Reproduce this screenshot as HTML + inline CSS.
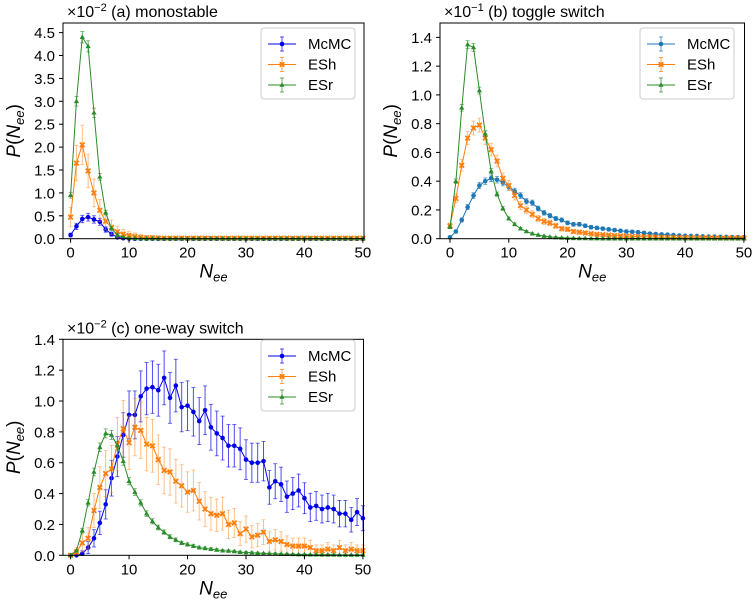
<!DOCTYPE html>
<html><head><meta charset="utf-8"><style>
body{margin:0;background:#fff;}
svg{display:block;font-family:"Liberation Sans","DejaVu Sans",sans-serif;}
</style></head><body>
<svg id="fig" width="754" height="607" viewBox="0 0 754 607" xmlns="http://www.w3.org/2000/svg"></svg>
<script>
// ---- data (units: panel scale factors) ----
const aMcMC=[0.08,0.27,0.43,0.47,0.42,0.37,0.2,0.1,0.03,0.01,0.005,0,0,0,0,0,0,0,0,0,0,0,0,0,0,0,0,0,0,0,0,0,0,0,0,0,0,0,0,0,0,0,0,0,0,0,0,0,0,0,0];
const aESh=[0.47,1.65,2.05,1.48,1.0,0.62,0.38,0.25,0.15,0.1,0.07,0.05,0.03,0.02,0.02,0.015,0.01,0.01,0.01,0.01,0.01,0.01,0.01,0.01,0.01,0.01,0.01,0.01,0.01,0.01,0.01,0.01,0.01,0.01,0.01,0.01,0.01,0.01,0.01,0.01,0.01,0.01,0.01,0.01,0.01,0.01,0.01,0.01,0.01,0.01,0.01];
const aESr=[0.95,3.0,4.4,4.2,2.75,1.35,0.57,0.22,0.08,0.03,0.01,0.005,0,0,0,0,0,0,0,0,0,0,0,0,0,0,0,0,0,0,0,0,0,0,0,0,0,0,0,0,0,0,0,0,0,0,0,0,0,0,0];
const bMcMC=[0.01,0.05,0.13,0.22,0.30,0.37,0.40,0.42,0.41,0.39,0.36,0.33,0.30,0.26,0.25,0.21,0.18,0.16,0.14,0.13,0.11,0.10,0.10,0.09,0.08,0.075,0.07,0.065,0.06,0.055,0.05,0.048,0.045,0.04,0.035,0.032,0.03,0.028,0.025,0.022,0.02,0.019,0.018,0.016,0.015,0.014,0.013,0.012,0.011,0.01,0.01];
const bESh=[0.09,0.28,0.51,0.70,0.77,0.79,0.70,0.62,0.54,0.42,0.37,0.30,0.23,0.20,0.17,0.14,0.12,0.11,0.09,0.07,0.065,0.05,0.045,0.04,0.035,0.03,0.028,0.025,0.022,0.02,0.018,0.016,0.015,0.013,0.012,0.011,0.01,0.009,0.008,0.008,0.007,0.007,0.006,0.006,0.006,0.005,0.005,0.005,0.005,0.005,0.005];
const bESr=[0.08,0.40,0.91,1.35,1.33,1.03,0.73,0.47,0.31,0.21,0.14,0.10,0.07,0.05,0.035,0.025,0.018,0.012,0.009,0.006,0.004,0.003,0.002,0.002,0.001,0.001,0,0,0,0,0,0,0,0,0,0,0,0,0,0,0,0,0,0,0,0,0,0,0,0,0];
const cMcMC=[0,0,0.01,0.05,0.11,0.21,0.33,0.50,0.64,0.78,0.91,0.91,1.03,1.08,1.09,1.07,1.15,1.02,1.10,0.96,0.97,0.93,0.87,0.94,0.83,0.79,0.76,0.71,0.71,0.69,0.62,0.60,0.60,0.61,0.44,0.48,0.46,0.38,0.40,0.42,0.37,0.31,0.32,0.30,0.31,0.30,0.27,0.27,0.23,0.28,0.24];
const cESh=[0,0.02,0.08,0.11,0.29,0.44,0.53,0.56,0.72,0.82,0.73,0.83,0.81,0.72,0.71,0.62,0.55,0.54,0.48,0.45,0.41,0.42,0.35,0.30,0.27,0.26,0.27,0.20,0.21,0.14,0.17,0.12,0.13,0.15,0.09,0.10,0.09,0.07,0.06,0.06,0.06,0.05,0.03,0.03,0.04,0.03,0.05,0.03,0.04,0.03,0.03];
const cESr=[0,0.03,0.16,0.34,0.54,0.70,0.79,0.78,0.71,0.61,0.48,0.41,0.34,0.27,0.22,0.18,0.15,0.12,0.10,0.08,0.07,0.06,0.05,0.045,0.04,0.035,0.03,0.028,0.025,0.02,0.018,0.016,0.014,0.012,0.01,0.01,0.008,0.007,0.006,0.005,0.005,0.004,0.004,0.003,0.003,0.003,0.002,0.002,0.002,0.002,0.002];
const xTicks=[0,10,20,30,40,50];
const aYTicks=["0.0","0.5","1.0","1.5","2.0","2.5","3.0","3.5","4.0","4.5"];
const bYTicks=["0.0","0.2","0.4","0.6","0.8","1.0","1.2","1.4"];
const cYTicks=["0.0","0.2","0.4","0.6","0.8","1.0","1.2","1.4"];
const seriesNames=["McMC","ESh","ESr"];

const NS="http://www.w3.org/2000/svg";
const svg=document.getElementById('fig');
function mk(tag,attrs,parent){const e=document.createElementNS(NS,tag);for(const k in attrs)e.setAttribute(k,attrs[k]);(parent||svg).appendChild(e);return e;}
function txt(x,y,size,anchor,parent){return mk('text',{x:x,y:y,'font-size':size,'text-anchor':anchor},parent);}

function panel(key,box,xdom,ydom,yTicks,series,colors,errScale,exp,title,legBox){
  const g=mk('g',{});
  
  
  const X=v=>box.l+(v-xdom[0])/(xdom[1]-xdom[0])*(box.r-box.l);
  const Y=v=>box.b-(v-ydom[0])/(ydom[1]-ydom[0])*(box.b-box.t);
  const markers=['circle','x','tri'];
  series.forEach((arr,si)=>{
    const sg=mk('g',{},g);
    
    
    const col=colors[si];
    arr.forEach((v,i)=>{
      if(v<=0)return;
      const err=errScale[si]*Math.sqrt(v*(ydom[1]/1.4))+0.002*ydom[1];
      const x=X(i),op=si===1?0.5:0.7;
      mk('line',{x1:x,x2:x,y1:Y(v+err),y2:Y(Math.max(0,v-err)),stroke:col,'stroke-width':1,opacity:op},sg);
      mk('line',{x1:x-2,x2:x+2,y1:Y(v+err),y2:Y(v+err),stroke:col,'stroke-width':0.8,opacity:op},sg);
      mk('line',{x1:x-2,x2:x+2,y1:Y(Math.max(0,v-err)),y2:Y(Math.max(0,v-err)),stroke:col,'stroke-width':0.8,opacity:op},sg);
    });
    const pts=arr.map((v,i)=>X(i).toFixed(1)+','+Y(v).toFixed(1)).join(' ');
    const pl=mk('polyline',{points:pts,fill:'none',stroke:col,'stroke-width':1},sg);
    
    
    arr.forEach((v,i)=>{
      const x=X(i),y=Y(v);
      let m;
      if(markers[si]==='circle')m=mk('circle',{cx:x,cy:y,r:2.3,fill:col},sg);
      else if(markers[si]==='x')m=mk('path',{d:`M${x-2.3},${y-2.3}L${x+2.3},${y+2.3}M${x-2.3},${y+2.3}L${x+2.3},${y-2.3}`,stroke:col,'stroke-width':1.8},sg);
      else m=mk('path',{d:`M${x},${y-2.8}L${x+2.6},${y+1.8}L${x-2.6},${y+1.8}Z`,fill:col},sg);
      
      
    });
  });
  const fr=mk('rect',{x:box.l,y:box.t,width:box.r-box.l,height:box.b-box.t,fill:'none',stroke:'#000','stroke-width':1},g);
  
  
  xTicks.forEach(t=>{
    const x=X(t);
    mk('line',{x1:x,x2:x,y1:box.b,y2:box.b+4,stroke:'#000'},g);
    const tx=txt(x,box.b+19,15,'middle',g);
    tx.textContent=t;
    
    
  });
  yTicks.forEach(t=>{
    const y=Y(parseFloat(t));
    mk('line',{x1:box.l-4,x2:box.l,y1:y,y2:y,stroke:'#000'},g);
    const tx=txt(box.l-8,y+5.5,15,'end',g);
    tx.textContent=t;
    
    
  });
  const tt=txt(box.l+4,box.t-6,16,'start',g);
  tt.innerHTML='×10<tspan dy="-6" font-size="11">'+exp+'</tspan><tspan dy="6"> '+title+'</tspan>';
  
  
  const xl=txt((box.l+box.r)/2,box.b+39,19,'middle',g);
  xl.setAttribute('font-style','italic');
  xl.innerHTML='N<tspan dy="4" font-size="13">ee</tspan>';
  
  
  const cy=(box.t+box.b)/2;
  const yl=mk('text',{x:0,y:0,'font-size':19,'text-anchor':'middle',transform:`translate(${box.l-43},${cy}) rotate(-90)`},g);
  yl.innerHTML='<tspan font-style="italic">P</tspan>(<tspan font-style="italic">N</tspan><tspan dy="4" font-size="13" font-style="italic">ee</tspan><tspan dy="-4">)</tspan>';
  
  
  const lg=mk('g',{},g);
  
  
  mk('rect',{x:legBox.x,y:legBox.y,width:94,height:71,rx:3,fill:'#fff',stroke:'#ccc','stroke-width':1},lg);
  seriesNames.forEach((n,si)=>{
    const y=legBox.y+16+si*20.5,x0=legBox.x+7,x1=legBox.x+35,xm=(x0+x1)/2,col=colors[si];
    const e=mk('g',{},lg);
    
    
    mk('line',{x1:x0,x2:x1,y1:y,y2:y,stroke:col},e);
    mk('line',{x1:xm,x2:xm,y1:y-7,y2:y+7,stroke:col,opacity:0.7},e);
    mk('line',{x1:xm-2,x2:xm+2,y1:y-7,y2:y-7,stroke:col,opacity:0.7},e);
    mk('line',{x1:xm-2,x2:xm+2,y1:y+7,y2:y+7,stroke:col,opacity:0.7},e);
    if(si===0)mk('circle',{cx:xm,cy:y,r:2.3,fill:col},e);
    else if(si===1)mk('path',{d:`M${xm-2.3},${y-2.3}L${xm+2.3},${y+2.3}M${xm-2.3},${y+2.3}L${xm+2.3},${y-2.3}`,stroke:col,'stroke-width':1.8},e);
    else mk('path',{d:`M${xm},${y-2.8}L${xm+2.6},${y+1.8}L${xm-2.6},${y+1.8}Z`,fill:col},e);
    const t=txt(legBox.x+47,y+5,15,'start',e);
    t.textContent=n;
  });
}
const G='#2a8c2a';
panel('a',{l:63,r:364,t:23,b:238.7},[-1.3,50.2],[0,4.71],aYTicks,[aMcMC,aESh,aESr],['#0000ee','#ff7f0e',G],[0.06,0.16,0.03],'−2','(a) monostable',{x:261,y:28});
panel('b',{l:440,r:744.5,t:23,b:238.7},[-1.7,50.1],[0,1.5],bYTicks,[bMcMC,bESh,bESr],['#1f77b4','#ff7f0e',G],[0.03,0.05,0.02],'−1','(b) toggle switch',{x:640,y:28});
panel('c',{l:63,r:363.5,t:339.3,b:555.3},[-1.3,50.1],[0,1.4],cYTicks,[cMcMC,cESh,cESr],['#0000ee','#ff7f0e',G],[0.16,0.2,0.03],'−2','(c) one-way switch',{x:261,y:340});
</script>
</body></html>
